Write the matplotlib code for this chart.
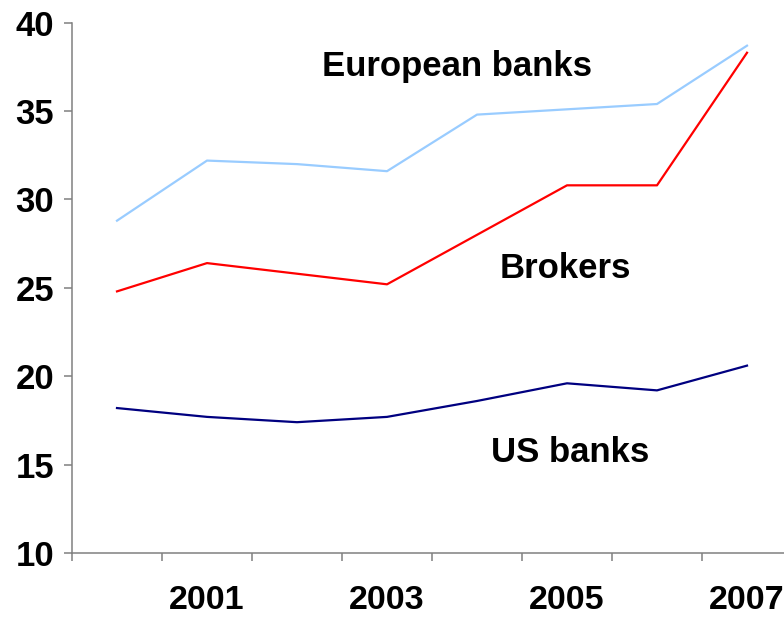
import matplotlib
matplotlib.use("Agg")
import matplotlib.pyplot as plt

years = ["2000", "2001", "2002", "2003", "2004", "2005", "2006", "2007"]
european_banks = [28.8, 32.2, 32.0, 31.6, 34.8, 35.1, 35.4, 38.7]
brokers = [24.8, 26.4, 25.8, 25.2, 28.0, 30.8, 30.8, 38.3]
us_banks = [18.2, 17.7, 17.4, 17.7, 18.6, 19.6, 19.2, 20.6]
year_labels = ["2001", "2003", "2005", "2007"]

plt.rcParams["font.family"] = ["Liberation Sans", "DejaVu Sans"]

fig = plt.figure(figsize=(7.84, 6.17), dpi=100)
# axes runs a little past the right edge, like the cropped original
ax = fig.add_axes([72 / 784, 1 - 553 / 617, 720 / 784, (553 - 22.7) / 617])

x = list(range(len(years)))
ax.plot(x, european_banks, color="#99ccff", lw=1.6)
ax.plot(x, brokers, color="#ff0000", lw=1.6)
ax.plot(x, us_banks, color="#000080", lw=1.6)

ax.set_xlim(-0.5, len(years) - 0.5)
ax.set_ylim(10, 40)
ax.set_yticks(range(10, 41, 5))

# category boundaries carry the tick marks, labels sit at every other year
ax.set_xticks([i - 0.5 for i in range(len(years))])
ax.set_xticklabels([])
ax.set_xticks([years.index(y) for y in year_labels], minor=True)
ax.set_xticklabels(year_labels, minor=True)
ax.tick_params(axis="x", which="minor", length=0, pad=23, labelsize=24.5)
ax.tick_params(axis="x", which="major", length=6, width=1.1, color="#808080", direction="out")
ax.tick_params(axis="y", length=6, width=1.1, color="#808080", pad=7, labelsize=25)
for lbl in ax.get_yticklabels() + ax.get_xticklabels(minor=True):
    lbl.set_fontweight("bold")

for side in ["top", "right"]:
    ax.spines[side].set_visible(False)
for side in ["left", "bottom"]:
    ax.spines[side].set_color("#808080")
    ax.spines[side].set_linewidth(1.1)

ax.text(3.78, 37.55, "European banks", ha="center", va="center", fontsize=25, fontweight="bold")
ax.text(4.98, 26.1, "Brokers", ha="center", va="center", fontsize=25, fontweight="bold")
ax.text(5.03, 15.7, "US banks", ha="center", va="center", fontsize=25, fontweight="bold")

fig.savefig("out.png", dpi=100)
